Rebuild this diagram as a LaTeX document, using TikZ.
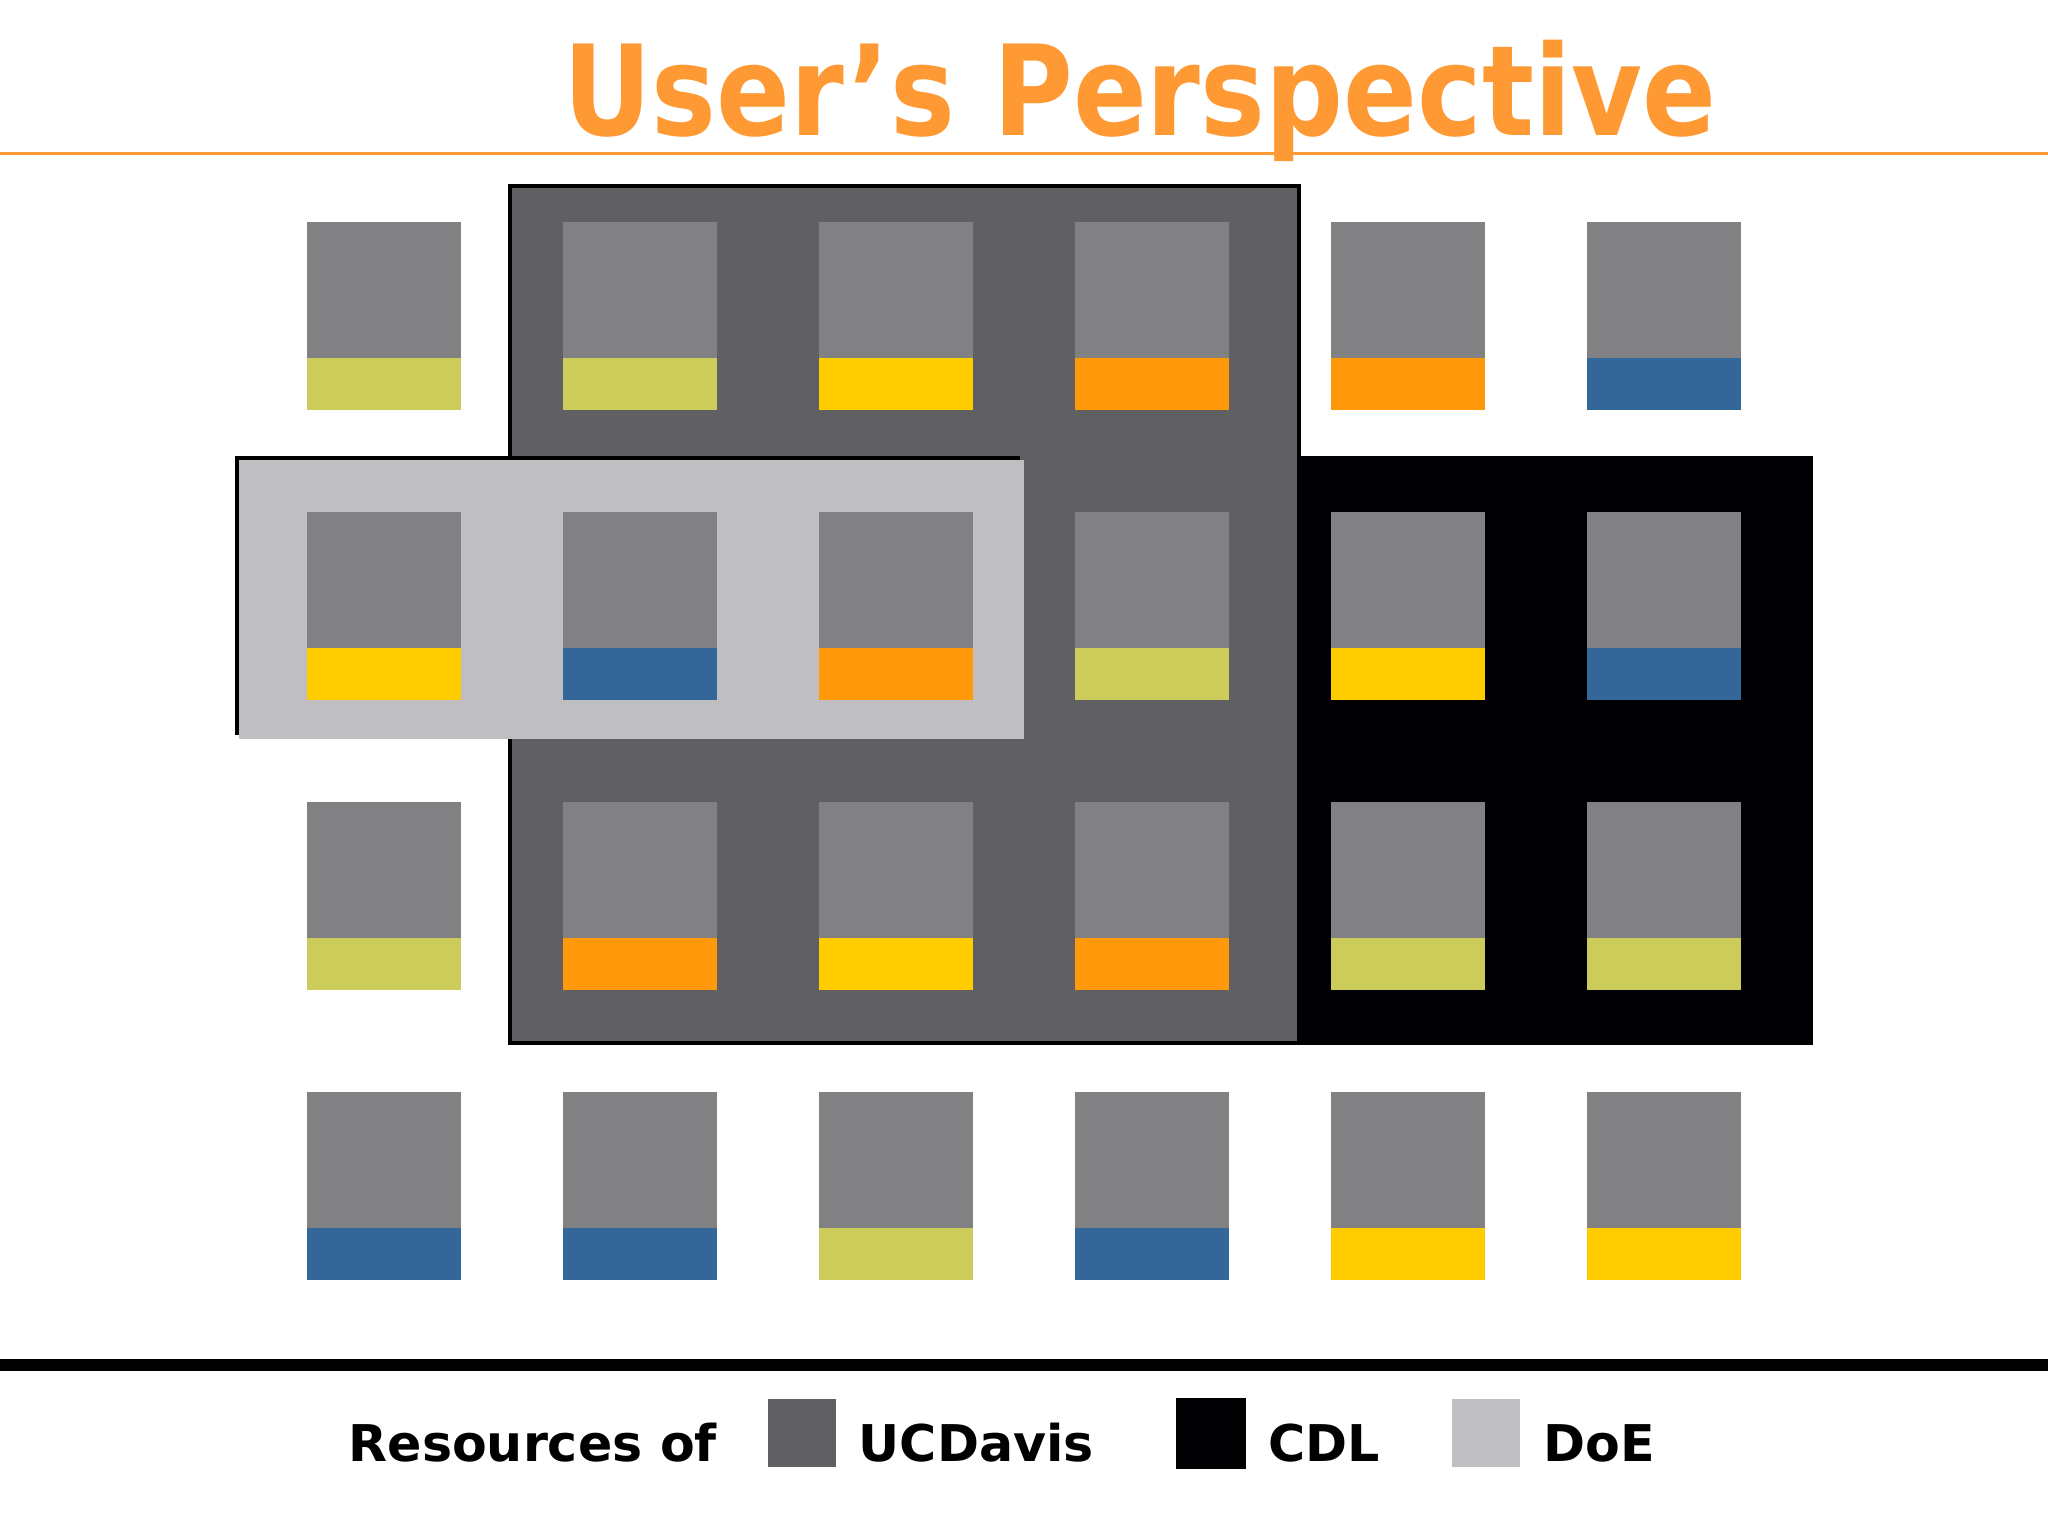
\documentclass[tikz,border=0pt]{standalone}
\usepackage{fontspec}
\setmainfont{DejaVu Sans}
\usepackage{xcolor}
\usepackage{graphicx}
\usetikzlibrary{positioning}

\definecolor{ucdgray}{RGB}{96,95,97}
\definecolor{doegray}{RGB}{191,190,192}
\definecolor{cdlblack}{RGB}{0,0,2}
\definecolor{disk}{RGB}{129,128,130}
\definecolor{lime}{RGB}{204,204,90}
\definecolor{gold}{RGB}{255,204,0}
\definecolor{amber}{RGB}{255,153,10}
\definecolor{steel}{RGB}{51,102,153}
\definecolor{titleorange}{RGB}{255,153,51}

\tikzset{
  res/.style={fill=disk, minimum width=1.536cm, minimum height=1.364cm,
              inner sep=0pt, outer sep=0pt, anchor=north west},
  tag/.style={minimum width=1.536cm, minimum height=0.512cm,
              inner sep=0pt, outer sep=0pt},
  swatch/.style={minimum width=0.68cm, minimum height=0.68cm,
                 inner sep=0pt, outer sep=0pt},
  legendtext/.style={font=\bfseries\fontsize{14.4}{17}\selectfont,
                     inner sep=0pt, anchor=base west},
}

\begin{document}
\begin{tikzpicture}[x=0.01cm, y=-0.01cm]
        \useasboundingbox (0,0) rectangle (2048,1536);
        \fill[white] (0,0) rectangle (2048,1536);

        % title
        \draw[titleorange, line width=0.03cm] (0,153.3) -- (2048,153.3);
        \node[anchor=base, inner sep=0pt, text=titleorange,
              font=\bfseries\fontsize{35.7}{40}\selectfont]
              (title) at (1140,135.7) {\scalebox{0.868}[1]{User’s Perspective}};

        % resource pools
        \draw[ucdgray, line width=0.04cm, draw=black, fill=ucdgray]
              (510,186) rectangle (1299,1043);
        \fill[cdlblack] (1297,456) rectangle (1813,1045);
        \fill[black]    (234.5,456) rectangle (1020,735);
        \fill[doegray]  (239,460) rectangle (1024,739);

        % machines
        \foreach \row [count=\r from 0] in
            {{lime,lime,gold,amber,amber,steel},
             {gold,steel,amber,lime,gold,steel},
             {lime,amber,gold,amber,lime,lime},
             {steel,steel,lime,steel,gold,gold}}
        {
          \foreach \col [count=\c from 0] in \row
          {
            \node[res] (disk-\r-\c) at (307+256*\c, 222+290*\r) {};
            \node[tag, fill=\col, below=0pt of disk-\r-\c] (tag-\r-\c) {};
          }
        }

        % legend
        \fill[black] (0,1359) rectangle (2048,1371);
        \node[legendtext] (res-of) at (348,1461.7) {Resources of};
        \node[swatch, fill=ucdgray]  (sw-ucd) at (802,1433) {};
        \node[legendtext] (lbl-ucd) at (858,1461.7) {UCDavis};
        \node[swatch, fill=cdlblack, minimum width=0.70cm, minimum height=0.71cm]
              (sw-cdl) at (1211,1433.5) {};
        \node[legendtext] (lbl-cdl) at (1268,1461.7) {CDL};
        \node[swatch, fill=doegray]  (sw-doe) at (1486,1433) {};
        \node[legendtext] (lbl-doe) at (1543,1461.7) {DoE};
\end{tikzpicture}
\end{document}
